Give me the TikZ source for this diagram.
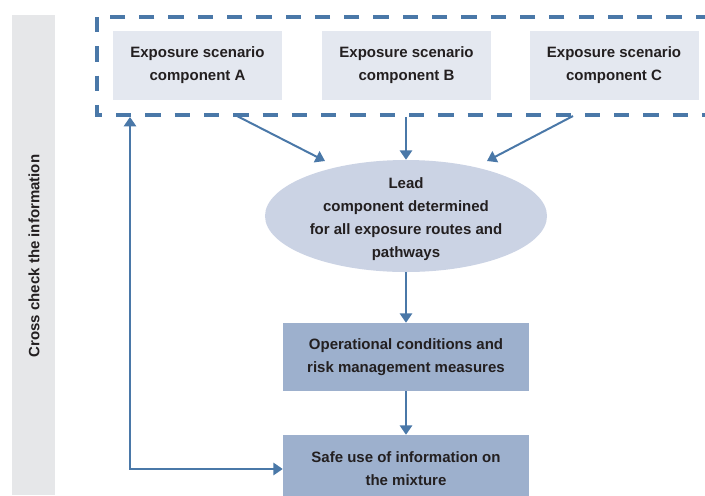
\documentclass[tikz,border=0pt]{standalone}
\usepackage{xcolor}
\usepackage{fontspec}
\setmainfont{Liberation Sans}
\usepackage{tikz}
\usetikzlibrary{arrows.meta}
\usetikzlibrary{shapes.geometric}

\definecolor{flowblue}{RGB}{74,120,168}
\definecolor{scenariofill}{RGB}{228,232,240}
\definecolor{leadfill}{RGB}{203,211,228}
\definecolor{stepfill}{RGB}{157,176,205}
\definecolor{sidebar}{RGB}{230,231,233}
\definecolor{ink}{RGB}{35,31,32}

\tikzset{
  flow/.style={draw=flowblue, line width=1.7pt, -{Triangle[length=8pt,width=10.5pt]}},
  scenariobox/.style={fill=scenariofill, minimum width=5.07cm, minimum height=2.07cm,
    inner sep=0pt, align=center},
  stepbox/.style={fill=stepfill, minimum width=7.38cm, minimum height=2.04cm,
    inner sep=0pt, align=center}
}

\begin{document}
\begin{tikzpicture}[x=0.03cm, y=-0.03cm, text=ink,
    font=\bfseries\fontsize{12.8}{19.6}\selectfont]

    \useasboundingbox (0, 0) rectangle (705, 495);
    \clip (0, 0) rectangle (705, 495);

    % grey side bar
    \fill[sidebar] (12, 15) rectangle (55, 495);
    \node[rotate=90] (crosscheck) at (34, 256) {Cross check the information};

    % dashed frame round the three components
    \draw[flowblue, line width=4pt, dash pattern=on 13pt off 12pt]
      (97, 17) rectangle (716, 115);
    \foreach \name/\x/\letter in {compA/197.5/A, compB/406.5/B, compC/614/C} {
      \node[scenariobox] (\name) at (\x, 65.5) {Exposure scenario\\component \letter};
    }

    \node[ellipse, fill=leadfill, minimum width=8.46cm, minimum height=3.36cm,
      inner sep=0pt] (lead) at (406, 216) {};
    \node[align=center] (leadtext) at (406, 219.5)
      {Lead\\component determined\\for all exposure routes and\\pathways};

    \node[stepbox] (measures) at (406, 357)
      {Operational conditions and\\risk management measures};
    \node[stepbox] (safeuse) at (406, 469)
      {Safe use of information on\\the mixture};

    % arrows
    \coordinate (outA) at (237, 116);
    \coordinate (outB) at (406, 117);
    \coordinate (outC) at (573, 116);
    \coordinate (inA) at (325, 161);
    \coordinate (inC) at (487, 161);
    \coordinate (back) at (130, 117);

    \draw[flow] (outA) -- (inA);
    \draw[flow] (outB) -- (lead);
    \draw[flow] (outC) -- (inC);
    \draw[flow] (lead) -- (measures);
    \draw[flow] (measures) -- (safeuse);
    \draw[flow, {Triangle[length=8pt,width=10.5pt]}-{Triangle[length=8pt,width=10.5pt]}]
      (back) |- (safeuse.west);

\end{tikzpicture}
\end{document}
